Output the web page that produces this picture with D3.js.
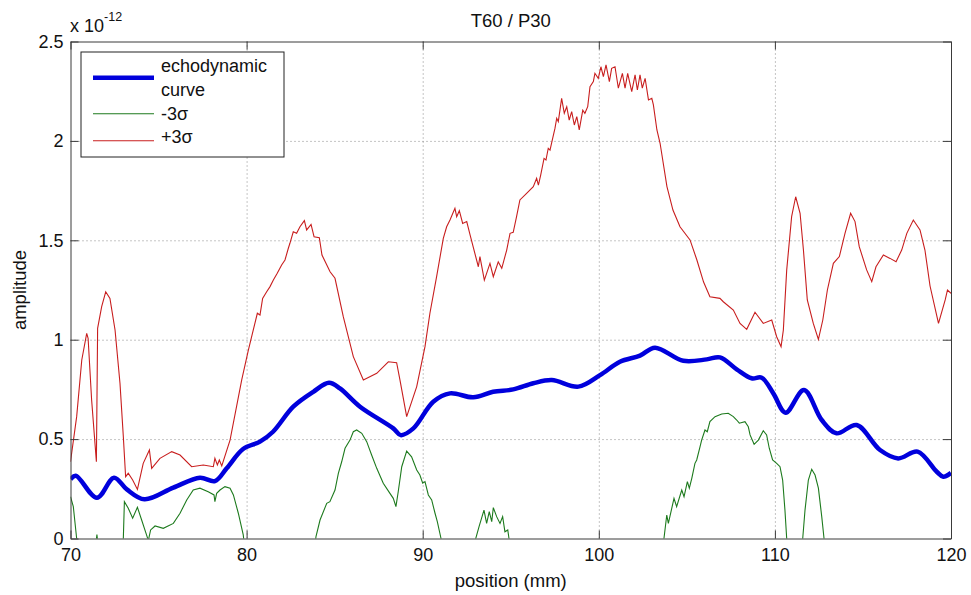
<!DOCTYPE html>
<html>
<head>
<meta charset="utf-8">
<script src="https://cdn.jsdelivr.net/npm/d3@7"></script>
<style>
  body { margin: 0; background: #fff; }
  svg text { font-family: "Liberation Sans", Arial, sans-serif; fill: #111; }
</style>
</head>
<body>
<svg id="chart" width="971" height="595"></svg>
<script>
// values in units of 1e-12
const echoPos = [70.0, 70.3, 71.5, 72.47, 73.2, 74.2, 75.84, 77.35, 78.2, 78.87, 79.8, 80.76, 81.5, 82.65, 83.79, 84.68, 85.3, 86.44, 88.33, 88.75, 89.47, 90.6, 91.55, 92.87, 94.0, 95.14, 96.28, 97.33, 98.84, 100.07, 101.2, 102.34, 103.19, 104.8, 106.13, 106.88, 107.83, 108.68, 109.25, 109.91, 110.61, 111.65, 112.66, 113.5, 114.64, 115.97, 117.0, 118.1, 119.19, 119.56, 120.0];
const echoAmp = [0.298, 0.316, 0.205, 0.306, 0.247, 0.197, 0.256, 0.306, 0.289, 0.353, 0.45, 0.487, 0.537, 0.663, 0.738, 0.783, 0.755, 0.663, 0.554, 0.52, 0.554, 0.688, 0.73, 0.71, 0.738, 0.75, 0.781, 0.797, 0.764, 0.822, 0.889, 0.92, 0.96, 0.894, 0.901, 0.911, 0.851, 0.806, 0.809, 0.73, 0.633, 0.747, 0.596, 0.529, 0.571, 0.445, 0.403, 0.437, 0.336, 0.311, 0.33];

const plusPos = [70.0, 70.35, 70.64, 70.92, 71.0, 71.2, 71.47, 71.54, 71.77, 72.0, 72.24, 72.53, 72.81, 73.0, 73.13, 73.28, 73.53, 73.8, 74.13, 74.48, 74.61, 75.08, 75.75, 76.22, 76.88, 77.54, 78.11, 78.2, 78.34, 78.45, 78.59, 79.06, 79.72, 80.1, 80.38, 80.61, 80.76, 80.91, 81.14, 81.33, 81.52, 81.74, 81.99, 82.18, 82.37, 82.46, 82.65, 82.84, 83.03, 83.28, 83.41, 83.66, 83.83, 84.13, 84.28, 84.74, 85.02, 85.49, 86.06, 86.63, 87.39, 88.05, 88.52, 88.71, 89.09, 89.66, 90.13, 90.41, 90.79, 91.17, 91.36, 91.55, 91.83, 91.93, 92.08, 92.27, 92.5, 92.69, 93.16, 93.25, 93.5, 93.82, 94.01, 94.29, 94.49, 94.77, 94.96, 95.14, 95.33, 95.52, 95.9, 96.28, 96.47, 96.57, 96.7, 96.89, 97.0, 97.13, 97.23, 97.38, 97.51, 97.61, 97.7, 97.89, 98.04, 98.18, 98.32, 98.46, 98.61, 98.75, 98.89, 99.09, 99.21, 99.37, 99.5, 99.69, 99.78, 99.97, 100.12, 100.26, 100.41, 100.6, 100.73, 100.92, 101.11, 101.34, 101.49, 101.64, 101.87, 102.06, 102.19, 102.34, 102.47, 102.63, 102.82, 103.01, 103.1, 103.3, 103.48, 103.87, 104.21, 104.61, 105.18, 105.57, 105.95, 106.31, 106.88, 107.07, 107.64, 108.02, 108.4, 108.87, 109.34, 109.82, 110.1, 110.35, 110.48, 110.67, 110.95, 111.18, 111.43, 111.62, 111.84, 112.18, 112.47, 112.72, 112.98, 113.32, 113.66, 113.98, 114.3, 114.55, 114.79, 115.21, 115.5, 115.74, 116.16, 116.54, 116.88, 117.2, 117.49, 117.86, 118.24, 118.52, 118.81, 119.29, 119.67, 119.8, 120.0];
const plusAmp = [0.386, 0.613, 0.898, 1.032, 1.007, 0.697, 0.386, 1.057, 1.166, 1.241, 1.208, 1.049, 0.781, 0.512, 0.311, 0.328, 0.294, 0.247, 0.378, 0.445, 0.353, 0.403, 0.437, 0.42, 0.361, 0.37, 0.361, 0.403, 0.37, 0.395, 0.365, 0.495, 0.797, 0.948, 1.049, 1.133, 1.124, 1.208, 1.241, 1.267, 1.3, 1.334, 1.376, 1.401, 1.46, 1.485, 1.543, 1.535, 1.568, 1.599, 1.552, 1.58, 1.518, 1.513, 1.426, 1.342, 1.309, 1.116, 0.915, 0.797, 0.831, 0.889, 0.884, 0.797, 0.613, 0.764, 0.965, 1.133, 1.317, 1.51, 1.568, 1.602, 1.661, 1.619, 1.649, 1.585, 1.594, 1.527, 1.367, 1.418, 1.3, 1.384, 1.317, 1.392, 1.359, 1.451, 1.535, 1.54, 1.619, 1.703, 1.736, 1.77, 1.812, 1.778, 1.828, 1.912, 1.904, 1.963, 1.954, 2.013, 2.063, 2.114, 2.097, 2.214, 2.139, 2.172, 2.105, 2.147, 2.08, 2.122, 2.055, 2.155, 2.139, 2.172, 2.273, 2.298, 2.34, 2.315, 2.373, 2.323, 2.382, 2.298, 2.365, 2.373, 2.265, 2.34, 2.265, 2.34, 2.248, 2.332, 2.256, 2.332, 2.265, 2.315, 2.206, 2.214, 2.181, 2.055, 1.988, 1.77, 1.652, 1.568, 1.502, 1.401, 1.29, 1.216, 1.208, 1.191, 1.149, 1.082, 1.052, 1.138, 1.082, 1.099, 1.015, 0.965, 1.049, 1.35, 1.619, 1.719, 1.636, 1.451, 1.2, 1.082, 1.002, 1.099, 1.25, 1.384, 1.418, 1.535, 1.636, 1.594, 1.468, 1.351, 1.292, 1.367, 1.426, 1.409, 1.392, 1.451, 1.535, 1.602, 1.552, 1.451, 1.27, 1.082, 1.2, 1.25, 1.233];

const minusPos = [70.0, 70.16, 70.35, 70.5, 71.35, 71.5, 71.65, 72.9, 73.0, 73.06, 73.28, 73.53, 73.8, 74.04, 74.29, 74.42, 74.55, 74.8, 75.27, 75.84, 76.22, 76.6, 76.97, 77.35, 77.82, 78.15, 78.2, 78.3, 78.49, 78.77, 79.06, 79.25, 79.53, 79.81, 79.95, 83.8, 83.94, 84.17, 84.55, 84.73, 85.02, 85.21, 85.4, 85.59, 85.87, 86.06, 86.25, 86.54, 86.82, 87.1, 87.39, 87.76, 88.14, 88.33, 88.48, 88.61, 88.81, 89.09, 89.37, 89.66, 89.84, 90.0, 90.13, 90.32, 90.51, 90.7, 90.83, 91.04, 91.2, 92.9, 93.01, 93.2, 93.48, 93.63, 93.78, 93.92, 94.01, 94.2, 94.39, 94.54, 94.67, 94.83, 94.9, 95.05, 103.6, 103.7, 103.86, 103.95, 104.27, 104.42, 104.71, 104.84, 105.03, 105.14, 105.28, 105.46, 105.56, 105.75, 105.84, 106.03, 106.16, 106.31, 106.6, 106.98, 107.35, 107.64, 107.83, 107.98, 108.3, 108.49, 108.59, 108.82, 109.06, 109.34, 109.53, 109.68, 109.87, 110.1, 110.29, 110.44, 110.57, 110.67, 110.8, 111.45, 111.58, 111.71, 111.9, 112.09, 112.28, 112.47, 112.66, 112.79, 112.9, 120.0];
const minusAmp = [0.21, 0.16, 0.0, -0.15, -0.1, 0.02, -0.1, -0.15, 0.0, 0.185, 0.152, 0.102, 0.157, 0.093, 0.026, -0.01, 0.043, 0.063, 0.051, 0.076, 0.127, 0.194, 0.244, 0.253, 0.235, 0.219, 0.185, 0.227, 0.244, 0.261, 0.253, 0.219, 0.127, 0.018, -0.1, -0.1, 0.01, 0.093, 0.177, 0.185, 0.244, 0.328, 0.386, 0.454, 0.495, 0.537, 0.546, 0.529, 0.487, 0.42, 0.353, 0.278, 0.227, 0.202, 0.16, 0.235, 0.361, 0.44, 0.411, 0.345, 0.319, 0.278, 0.286, 0.219, 0.194, 0.127, 0.085, 0.0, -0.1, -0.1, 0.0, 0.06, 0.143, 0.076, 0.135, 0.085, 0.155, 0.11, 0.076, 0.11, 0.034, 0.043, 0.0, -0.1, -0.1, 0.0, 0.118, 0.076, 0.202, 0.16, 0.244, 0.21, 0.286, 0.253, 0.303, 0.378, 0.395, 0.462, 0.495, 0.546, 0.537, 0.588, 0.613, 0.626, 0.63, 0.613, 0.596, 0.58, 0.588, 0.562, 0.521, 0.474, 0.495, 0.542, 0.521, 0.454, 0.395, 0.378, 0.361, 0.294, 0.143, 0.0, -0.1, -0.1, 0.0, 0.143, 0.294, 0.348, 0.319, 0.253, 0.11, 0.0, -0.1, -0.1];

const xTicks = [70, 80, 90, 100, 110, 120];
const yTicks = [0, 0.5, 1, 1.5, 2, 2.5];
const legendLabels = ["echodynamic", "-3σ", "+3σ"];

const svg = d3.select("#chart"),
    margin = { top: 41.5, right: 20, bottom: 56.5, left: 70.5 },
    width = +svg.attr("width") - margin.left - margin.right,
    height = +svg.attr("height") - margin.top - margin.bottom,
    chart = svg.append("g").attr("transform", `translate(${margin.left},${margin.top})`);

const x = d3.scaleLinear().domain([70, 120]).range([0, width]);
const y = d3.scaleLinear().domain([0, 2.5]).range([height, 0]);

// dotted grid
chart.append("g")
    .attr("transform", `translate(0,${height})`)
    .call(d3.axisBottom(x).tickValues(xTicks.slice(1, -1)).tickSize(-height).tickFormat(""))
    .call(g => g.select(".domain").remove())
    .selectAll("line").attr("stroke", "#8a8a8a").attr("stroke-dasharray", "1,3");

chart.append("g")
    .call(d3.axisLeft(y).tickValues(yTicks.slice(1, -1)).tickSize(-width).tickFormat(""))
    .call(g => g.select(".domain").remove())
    .selectAll("line").attr("stroke", "#8a8a8a").attr("stroke-dasharray", "1,3");

chart.append("clipPath").attr("id", "plotClip")
    .append("rect").attr("width", width).attr("height", height);

const plot = chart.append("g").attr("clip-path", "url(#plotClip)");

const jagged = (xs, ys) => d3.line().x(i => x(xs[i])).y(i => y(ys[i]))(d3.range(xs.length));

plot.append("path")
    .attr("d", jagged(plusPos, plusAmp))
    .attr("fill", "none").attr("stroke", "#c81e1e").attr("stroke-width", 1.1);

plot.append("path")
    .attr("d", jagged(minusPos, minusAmp))
    .attr("fill", "none").attr("stroke", "#1d7a1d").attr("stroke-width", 1.1);

plot.append("path")
    .attr("d", d3.line().curve(d3.curveCatmullRom.alpha(0.5))
        .x(i => x(echoPos[i])).y(i => y(echoAmp[i]))(d3.range(echoPos.length)))
    .attr("fill", "none").attr("stroke", "#0000dc").attr("stroke-width", 4.5)
    .attr("stroke-linejoin", "round");

// axes with inward ticks on all four sides
const axisColor = "#3a3a3a";
const styleAxis = g => {
    g.select(".domain").attr("stroke", axisColor);
    g.selectAll(".tick line").attr("stroke", axisColor);
    g.selectAll("text").style("font-size", "18px").attr("fill", "#111")
        .style("font-family", "'Liberation Sans', Arial, sans-serif");
};

chart.append("g")
    .attr("transform", `translate(0,${height})`)
    .call(d3.axisBottom(x).tickValues(xTicks).tickSizeInner(-8).tickSizeOuter(0).tickPadding(10))
    .call(styleAxis);

chart.append("g")
    .call(d3.axisLeft(y).tickValues(yTicks).tickSizeInner(-8).tickSizeOuter(0).tickPadding(7)
        .tickFormat(d => d))
    .call(styleAxis);

chart.append("g")
    .call(d3.axisTop(x).tickValues(xTicks).tickSizeInner(-8).tickSizeOuter(0).tickFormat(""))
    .call(styleAxis);

chart.append("g")
    .attr("transform", `translate(${width},0)`)
    .call(d3.axisRight(y).tickValues(yTicks).tickSizeInner(-8).tickSizeOuter(0).tickFormat(""))
    .call(styleAxis);

// titles
svg.append("text")
    .attr("x", margin.left + width / 2).attr("y", 26.5)
    .attr("text-anchor", "middle").style("font-size", "18.5px")
    .text("T60 / P30");

svg.append("text")
    .attr("x", margin.left + width / 2).attr("y", 587)
    .attr("text-anchor", "middle").style("font-size", "18.5px")
    .text("position (mm)");

svg.append("text")
    .attr("transform", `translate(26,${margin.top + height / 2}) rotate(-90)`)
    .attr("text-anchor", "middle").style("font-size", "18.5px")
    .text("amplitude");

const expo = svg.append("text").attr("x", 70).attr("y", 32).style("font-size", "18px");
expo.append("tspan").text("x 10");
expo.append("tspan").attr("dy", -11).style("font-size", "12.5px").text("-12");

// legend
const legend = svg.append("g");
legend.append("rect")
    .attr("x", 81).attr("y", 52).attr("width", 203).attr("height", 105)
    .attr("fill", "#fff").attr("stroke", "#222").attr("stroke-width", 1);

const legendRows = [
    { lineY: 77.7, color: "#0000dc", w: 4.5, textY: 72, label: legendLabels[0], extra: "curve" },
    { lineY: 113.7, color: "#1d7a1d", w: 1.1, textY: 120, label: legendLabels[1] },
    { lineY: 140.7, color: "#c81e1e", w: 1.1, textY: 143, label: legendLabels[2] }
];

legendRows.forEach(r => {
    legend.append("line")
        .attr("x1", 93).attr("x2", 154).attr("y1", r.lineY).attr("y2", r.lineY)
        .attr("stroke", r.color).attr("stroke-width", r.w);
    legend.append("text")
        .attr("x", 161).attr("y", r.textY).style("font-size", "18px")
        .text(r.label);
    if (r.extra) {
        legend.append("text")
            .attr("x", 161).attr("y", r.textY + 24).style("font-size", "18px")
            .text(r.extra);
    }
});
</script>
</body>
</html>
